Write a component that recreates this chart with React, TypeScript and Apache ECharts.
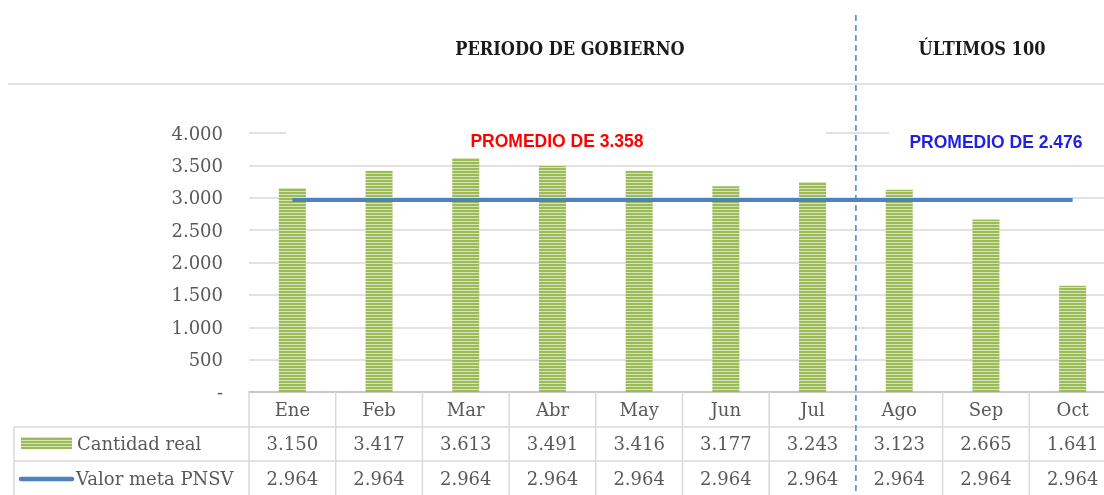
import React, { useEffect, useRef } from 'react';
import * as echarts from 'echarts';

const categories = ['Ene', 'Feb', 'Mar', 'Abr', 'May', 'Jun', 'Jul', 'Ago', 'Sep', 'Oct'];
const cantidadReal = [3150, 3417, 3613, 3491, 3416, 3177, 3243, 3123, 2665, 1641];
const valorMeta = [2964, 2964, 2964, 2964, 2964, 2964, 2964, 2964, 2964, 2964];
const seriesNames = ['Cantidad real', 'Valor meta PNSV'];
const sectionTitles = ['PERIODO DE GOBIERNO', 'ÚLTIMOS 100'];
const splitIndex = 7; // first month of "Últimos 100"
const yMax = 4000;
const yInterval = 500;

const W = 1104;
const H = 495;
const GRID_LEFT = 249;
const GRID_TOP = 133;
const GRID_BOTTOM = 103;
const CAT_W = 86.7;
const GRID_WIDTH = CAT_W * categories.length;
const CANVAS_W = Math.ceil(GRID_LEFT + GRID_WIDTH + 4); // chart runs past the window edge, as in the reference

const SERIF = '"DejaVu Serif"';
const SERIF_COND = '"DejaVu Serif Condensed", "DejaVu Serif"';
const SANS_BOLD = '"Liberation Sans", Arial';
const GREY = '#595959';
const LINE = '#d9d9d9';

function fmt(n: number): string {
  return String(Math.round(n)).replace(/\B(?=(\d{3})+(?!\d))/g, '.');
}

function avg(a: number[]): number {
  return a.reduce((s, v) => s + v, 0) / a.length;
}

function makeStripe(): HTMLCanvasElement {
  const c = document.createElement('canvas');
  c.width = 4;
  c.height = 3;
  const ctx = c.getContext('2d')!;
  ctx.fillStyle = '#9bbb59';
  ctx.fillRect(0, 0, 4, 3);
  ctx.fillStyle = '#d6e4b8';
  ctx.fillRect(0, 2, 4, 1);
  return c;
}

export default function App() {
  const ref = useRef<HTMLDivElement>(null);

  useEffect(() => {
    document.body.style.margin = '0';
    document.body.style.overflow = 'hidden';
    const chart = echarts.init(ref.current!, null, { renderer: 'svg' });
    const stripe = makeStripe();
    const pattern: any = { image: stripe, repeat: 'repeat' };

    const avgGob = avg(cantidadReal.slice(0, splitIndex));
    const avgUlt = avg(cantidadReal.slice(splitIndex));

    const splitX = GRID_LEFT + splitIndex * CAT_W;
    const axisY = H - GRID_BOTTOM;
    const row1 = 427;
    const row2 = 461;
    const RX = CANVAS_W;

    const graphic: any[] = [];
    // top horizontal separator
    graphic.push({ type: 'line', z: 100, shape: { x1: 8, y1: 84, x2: RX, y2: 84 }, style: { stroke: LINE, lineWidth: 1.5 } });
    // white boxes covering the top gridline behind text boxes
    graphic.push({ type: 'rect', z: 100, shape: { x: 286, y: 124, width: 540, height: 16 }, style: { fill: '#fff' } });
    graphic.push({ type: 'rect', z: 100, shape: { x: 889, y: 124, width: RX - 889, height: 16 }, style: { fill: '#fff' } });
    // section titles
    graphic.push({ type: 'text', z: 101, style: { text: sectionTitles[0], x: 570, y: 48, fill: '#1a1a1a', font: `bold 18px ${SERIF_COND}`, textAlign: 'center', textVerticalAlign: 'middle' } });
    graphic.push({ type: 'text', z: 101, style: { text: sectionTitles[1], x: 982, y: 48, fill: '#1a1a1a', font: `bold 18px ${SERIF_COND}`, textAlign: 'center', textVerticalAlign: 'middle' } });
    // averages
    graphic.push({ type: 'text', z: 101, style: { text: 'PROMEDIO DE ' + fmt(avgGob), x: 557, y: 141, fill: '#ff0000', font: `bold 17.5px ${SANS_BOLD}`, textAlign: 'center', textVerticalAlign: 'middle' } });
    graphic.push({ type: 'text', z: 101, style: { text: 'PROMEDIO DE ' + fmt(avgUlt), x: 996, y: 142, fill: '#1f1fe6', font: `bold 17.5px ${SANS_BOLD}`, textAlign: 'center', textVerticalAlign: 'middle' } });
    // data table lines
    graphic.push({ type: 'line', z: 100, shape: { x1: 14, y1: row1, x2: RX, y2: row1 }, style: { stroke: LINE, lineWidth: 1.5 } });
    graphic.push({ type: 'line', z: 100, shape: { x1: 14, y1: row2, x2: RX, y2: row2 }, style: { stroke: LINE, lineWidth: 1.5 } });
    graphic.push({ type: 'line', z: 100, shape: { x1: 14, y1: row1, x2: 14, y2: H }, style: { stroke: LINE, lineWidth: 1.5 } });
    for (let i = 0; i <= categories.length; i++) {
      if (i === splitIndex) continue;
      const x = GRID_LEFT + i * CAT_W;
      graphic.push({ type: 'line', z: 100, shape: { x1: x, y1: axisY, x2: x, y2: H }, style: { stroke: LINE, lineWidth: 1.5 } });
    }
    // dashed divider
    graphic.push({ type: 'line', z: 102, shape: { x1: splitX, y1: 15, x2: splitX, y2: H }, style: { stroke: '#4a86c8', lineWidth: 1.5, lineDash: [6, 4] } });
    // legend keys
    graphic.push({ type: 'rect', z: 101, shape: { x: 21, y: 437, width: 51, height: 12 }, style: { fill: pattern } });
    graphic.push({ type: 'text', z: 101, style: { text: seriesNames[0], x: 77, y: 443, fill: GREY, font: `18px ${SERIF}`, textAlign: 'left', textVerticalAlign: 'middle' } });
    graphic.push({ type: 'line', z: 101, shape: { x1: 21, y1: 479, x2: 72, y2: 479 }, style: { stroke: '#4f81bd', lineWidth: 4.5, lineCap: 'round' } });
    graphic.push({ type: 'text', z: 101, style: { text: seriesNames[1], x: 76, y: 478, fill: GREY, font: `18px ${SERIF}`, textAlign: 'left', textVerticalAlign: 'middle' } });

    chart.setOption({
      animation: false,
      grid: { left: GRID_LEFT, top: GRID_TOP, bottom: GRID_BOTTOM, width: GRID_WIDTH, containLabel: false },
      xAxis: {
        type: 'category',
        data: categories,
        boundaryGap: true,
        axisLine: { lineStyle: { color: '#bfbfbf', width: 1.5 } },
        axisTick: { show: false },
        axisLabel: {
          margin: 0,
          interval: 0,
          formatter: (v: string, i: number) => `{m|${v}}\n{v|${fmt(cantidadReal[i])}}\n{w|${fmt(valorMeta[i])}}`,
          rich: {
            m: { fontFamily: SERIF, fontSize: 18, color: GREY, lineHeight: 34 },
            v: { fontFamily: SERIF, fontSize: 18, color: GREY, lineHeight: 34 },
            w: { fontFamily: SERIF, fontSize: 18, color: GREY, lineHeight: 36 },
          },
        },
      },
      yAxis: {
        type: 'value',
        min: 0,
        max: yMax,
        interval: yInterval,
        axisLine: { show: false },
        axisTick: { show: false },
        splitLine: { lineStyle: { color: LINE, width: 1.5 } },
        axisLabel: {
          margin: 26,
          color: GREY,
          fontFamily: SERIF,
          fontSize: 18,
          formatter: (v: number) => (v === 0 ? '-' : fmt(v)),
        },
      },
      series: [
        {
          name: seriesNames[0],
          type: 'bar',
          data: cantidadReal,
          barWidth: 27,
          itemStyle: { color: pattern },
          z: 2,
        },
        {
          name: seriesNames[1],
          type: 'line',
          data: valorMeta,
          showSymbol: false,
          symbol: 'none',
          lineStyle: { color: '#4f81bd', width: 4 },
          itemStyle: { color: '#4f81bd' },
          z: 3,
        },
      ],
      graphic,
    });
    return () => chart.dispose();
  }, []);

  return <div ref={ref} style={{ position: 'fixed', left: 0, top: 0, width: CANVAS_W, height: H }} />;
}
